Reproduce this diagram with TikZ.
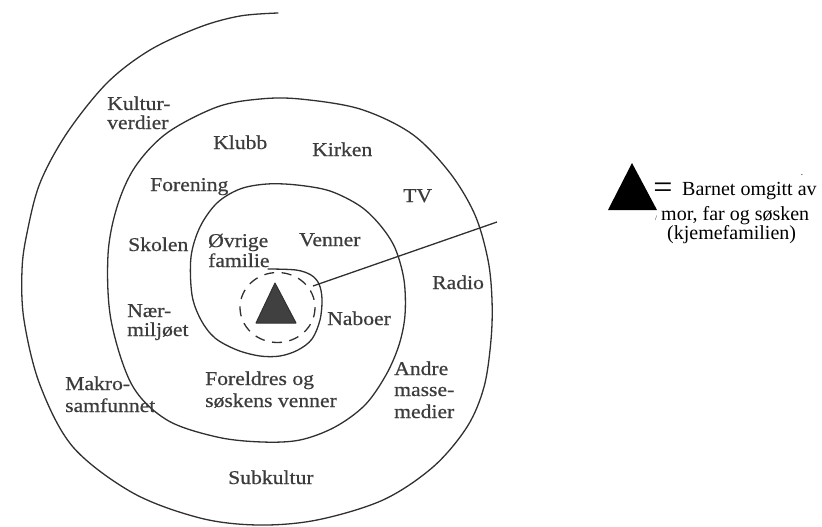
\documentclass[tikz,border=0pt]{standalone}
\usepackage{fontspec}
\setmainfont{Liberation Serif}
\newfontfamily\bookfont[FakeStretch=1.11,FakeBold=0.6]{Liberation Serif}
\definecolor{scanline}{HTML}{303030}
\definecolor{scantext}{HTML}{3c3c3c}
\definecolor{childfill}{HTML}{404040}
\begin{document}
\begin{tikzpicture}[x=1pt,y=-1pt,
  lbl/.style={anchor=base west,inner sep=0pt,text=scantext,font=\bookfont\fontsize{19.5}{21}\selectfont},
  leg/.style={anchor=base west,inner sep=0pt,text=black,font=\fontsize{20}{22}\selectfont},
  spiral/.style={draw=scanline,line width=1.3pt,line cap=round,line join=round},
  ring/.style={draw=scanline,line width=1.3pt,dash pattern=on 10pt off 7.5pt}]
\useasboundingbox (0,0) rectangle (822,527);
% spiral
\draw[spiral] plot[smooth,tension=0.55] coordinates {
 (278,13) (240,16) (200,27) (150,50) (107,83) (67,133) (40,183) (27,233) (22,270)
 (24,320) (40,385) (73,447) (133,493) (200,518) (258,525) (317,520) (383,500)
 (433,467) (467,427) (484,387) (491,340) (492,300) (488,260) (475,215) (450,173)
 (412,134) (360,109) (300,99) (260,99) (217,107) (167,133) (135,167) (117,207)
 (108,255) (111,320) (132,385) (167,420) (217,437) (262,442) (300,440) (335,427)
 (365,405) (386,375) (399,345) (405,315) (404,280) (395,248) (380,225) (360,206)
 (330,191) (297,185) (267,184) (240,189) (217,203) (200,227) (191,257) (192,295)
 (201,320) (215,338) (237,350) (260,356) (280,356) (298,350) (312,339) (320,320)
 (322,299) (319,284) (311,275) (296,270) (268,269)};
% dashed ring around the child
\draw[ring] (277.5,307.5) ellipse [x radius=37.5, y radius=35];
% child triangle
\coordinate (childtop) at (275,283);
\coordinate (childleft) at (256,323);
\coordinate (childright) at (296,323);
\draw[scanline,fill=childfill,line width=1pt,line join=round] (childtop) -- (childleft) -- (childright) -- cycle;
% pointer line
\coordinate (lineStart) at (313,286);
\coordinate (lineEnd) at (497,222);
\draw[scanline,line width=1.3pt] (lineStart) -- (lineEnd);
% labels
\node[lbl] (kultur1) at (107,110) {Kultur-};
\node[lbl] (kultur2) at (107,129) {verdier};
\node[lbl] (klubb) at (213,149) {Klubb};
\node[lbl] (kirken) at (312,156) {Kirken};
\node[lbl] (forening) at (150,191) {Forening};
\node[lbl] (tv) at (403,202) {TV};
\node[lbl] (skolen) at (128,251) {Skolen};
\node[lbl] (ovrige1) at (208,247) {Øvrige};
\node[lbl] (ovrige2) at (208,267) {familie};
\node[lbl] (venner) at (299,246) {Venner};
\node[lbl] (radio) at (432,289) {Radio};
\node[lbl] (naer1) at (127,317) {Nær-};
\node[lbl] (naer2) at (127,336) {miljøet};
\node[lbl] (naboer) at (327,325) {Naboer};
\node[lbl] (andre1) at (394,375) {Andre};
\node[lbl] (andre2) at (394,396) {masse-};
\node[lbl] (andre3) at (394,418) {medier};
\node[lbl] (makro1) at (65,390) {Makro-};
\node[lbl] (makro2) at (65,412) {samfunnet};
\node[lbl] (foreldre1) at (205,385) {Foreldres og};
\node[lbl] (foreldre2) at (205,407) {søskens venner};
\node[lbl] (subkultur) at (228,484) {Subkultur};
% legend
\coordinate (legtop) at (632,163);
\coordinate (legleft) at (608,210);
\coordinate (legright) at (657,210);
\fill[black] (legtop) -- (legleft) -- (legright) -- cycle;
\node[anchor=base,inner sep=0pt,font=\fontsize{34}{34}\selectfont] (equals) at (663,198.5) {=};
\node[leg] (leg1) at (682,195) {Barnet omgitt av};
\node[leg] (leg2) at (661,220) {mor, far og søsken};
\node[leg] (leg3) at (667,239) {(kjemefamilien)};
\node[anchor=base,inner sep=0pt,font=\fontsize{7}{7}\selectfont] (slash) at (656,220) {/};
\node[anchor=base,inner sep=0pt,font=\fontsize{9}{9}\selectfont] (dot) at (802,175) {.};
\end{tikzpicture}
\end{document}
